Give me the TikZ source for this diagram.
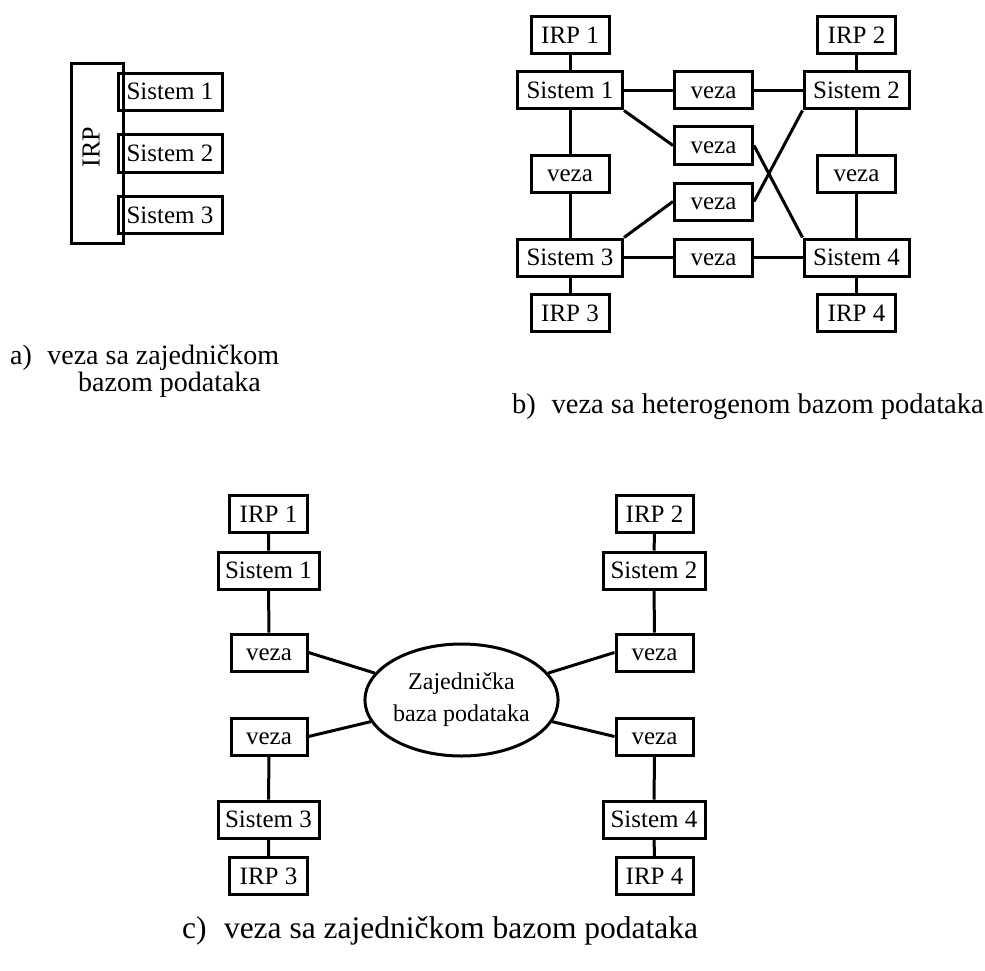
\documentclass[tikz,border=0pt]{standalone}
\usepackage{fontspec}
\setmainfont{Liberation Serif}
\usetikzlibrary{shapes.geometric}
\begin{document}
\begin{tikzpicture}[x=1pt,y=-1pt,
  blk/.style={draw,line width=3pt,inner sep=0pt,text height=18pt,text depth=2pt,
              font=\fontsize{25}{28}\selectfont},
  sysbox/.style={blk,minimum height=37pt,minimum width=105pt},
  irpbox/.style={blk,minimum height=37pt,minimum width=78pt},
  vezabox/.style={blk,minimum height=37pt,minimum width=78pt},
  link/.style={line width=3pt},
  capt/.style={anchor=base west,inner sep=0pt,font=\fontsize{28}{30}\selectfont}]
\useasboundingbox (0,0) rectangle (985,971);

% ---- a) shared database
\node[draw,line width=3pt,inner sep=0pt,minimum width=52pt,minimum height=179pt] (irpA) at (97,153.5) {};
\node[rotate=90,inner sep=0pt,font=\fontsize{26}{28}\selectfont] (irpAtxt) at (91,147) {IRP};
\node[sysbox,minimum width=104pt] (sA1) at (170,92) {Sistem 1};
\node[sysbox,minimum width=104pt] (sA2) at (170,153.5) {Sistem 2};
\node[sysbox,minimum width=104pt] (sA3) at (170,215) {Sistem 3};
\node[capt] (capA) at (10,364) {a)\hspace{0.55em}veza sa zajedničkom};
\node[capt] (capA2) at (78,391) {bazom podataka};

% ---- b) heterogeneous databases
\node[irpbox] (irp1) at (570,35.5) {IRP 1};
\node[irpbox] (irp2) at (856.5,35.5) {IRP 2};
\node[sysbox] (s1) at (570,90.5) {Sistem 1};
\node[sysbox] (s2) at (856.5,90.5) {Sistem 2};
\node[vezabox] (vTop) at (713.5,90.5) {veza};
\node[vezabox] (vMidU) at (713.5,145.5) {veza};
\node[vezabox] (vL) at (570,174) {veza};
\node[vezabox] (vR) at (856.5,174) {veza};
\node[vezabox] (vMidL) at (713.5,201.5) {veza};
\node[sysbox] (s3) at (570,257.5) {Sistem 3};
\node[vezabox] (vBot) at (713.5,257.5) {veza};
\node[sysbox] (s4) at (856.5,257.5) {Sistem 4};
\node[irpbox] (irp3) at (570,313) {IRP 3};
\node[irpbox] (irp4) at (856.5,313) {IRP 4};

\draw[link] (irp1) -- (s1) -- (vL) -- (s3) -- (irp3);
\draw[link] (irp2) -- (s2) -- (vR) -- (s4) -- (irp4);
\draw[link] (s1) -- (vTop) -- (s2);
\draw[link] (s3) -- (vBot) -- (s4);
\draw[link] (s1.south east) -- (vMidU.west);
\draw[link] (vMidU.east) -- (s4.north west);
\draw[link] (s2.south west) -- (vMidL.east);
\draw[link] (vMidL.west) -- (s3.north east);

\node[capt,font=\fontsize{28.5}{30}\selectfont] (capB) at (512,413) {b)\hspace{0.55em}veza sa heterogenom bazom podataka};

% ---- c) common shared database
\node[irpbox] (c_irp1) at (268.5,514) {IRP 1};
\node[sysbox,minimum width=101pt] (c_s1) at (268.5,570.5) {Sistem 1};
\node[vezabox,minimum width=76pt] (c_v1) at (269,652.5) {veza};
\node[vezabox,minimum width=76pt] (c_v3) at (269,736.5) {veza};
\node[sysbox,minimum width=101pt] (c_s3) at (268.5,819.5) {Sistem 3};
\node[irpbox] (c_irp3) at (268.5,876) {IRP 3};

\node[irpbox,minimum width=77pt] (c_irp2) at (654.5,514) {IRP 2};
\node[sysbox,minimum width=102pt] (c_s2) at (654,570.5) {Sistem 2};
\node[vezabox,minimum width=77pt] (c_v2) at (654.5,652.5) {veza};
\node[vezabox,minimum width=77pt] (c_v4) at (654.5,736.5) {veza};
\node[sysbox,minimum width=102pt] (c_s4) at (654,819.5) {Sistem 4};
\node[irpbox,minimum width=77pt] (c_irp4) at (654.5,876) {IRP 4};

\node[ellipse,draw,line width=3pt,minimum width=187pt,minimum height=112pt,inner sep=0pt,
      align=center,font=\fontsize{24}{32}\selectfont] (db) at (461.5,700)
      {Zajednička\\baza podataka};

\draw[link] (c_irp1) -- (c_s1) -- (c_v1);
\draw[link] (c_v3) -- (c_s3) -- (c_irp3);
\draw[link] (c_irp2) -- (c_s2) -- (c_v2);
\draw[link] (c_v4) -- (c_s4) -- (c_irp4);
\draw[link] (c_v1.east) -- (db);
\draw[link] (c_v3.east) -- (db);
\draw[link] (c_v2.west) -- (db);
\draw[link] (c_v4.west) -- (db);

\node[capt,font=\fontsize{31.5}{34}\selectfont] (capC) at (182,938) {c)\hspace{0.55em}veza sa zajedničkom bazom podataka};
\end{tikzpicture}
\end{document}
